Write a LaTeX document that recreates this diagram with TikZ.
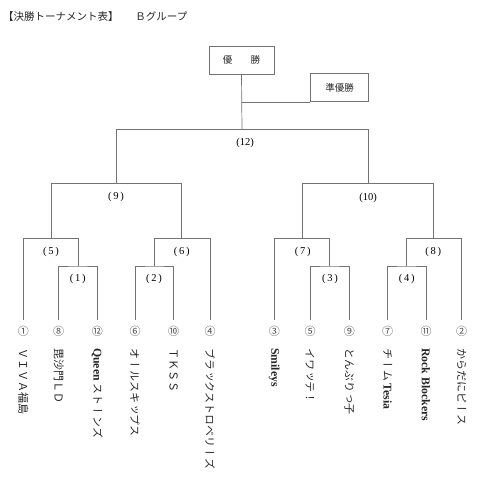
\documentclass[tikz,border=0pt]{standalone}
\usepackage{fontspec}
\setmainfont{Liberation Serif}
\newfontfamily\cjk{Noto Sans CJK JP}
\newfontfamily\cjkv[Vertical=RotatedGlyphs]{Noto Sans CJK JP}
\newcommand{\lat}[1]{{\rmfamily\bfseries\fontsize{11.8}{12}\selectfont #1}}
\begin{document}
\begin{tikzpicture}[x=1pt,y=-1pt,
  br/.style={draw=black!55,line width=0.7pt},
  boxnode/.style={draw=black!55,line width=0.7pt,inner sep=0pt,text=black!85,font=\cjk\fontsize{9.5}{10}\selectfont},
  lab/.style={inner sep=0pt,font=\fontsize{10.5}{11}\selectfont},
  num/.style={inner sep=0pt,font=\cjk\fontsize{11}{11}\selectfont,text=black!70},
  team/.style={inner sep=0pt,rotate=-90,anchor=west,text=black!85,font=\cjkv\fontsize{11}{11}\selectfont}]
\useasboundingbox (0,0) rectangle (480,480);
% title
\node[anchor=west,inner sep=0pt,text=black!85,font=\cjk\fontsize{10.5}{11}\selectfont] (title) at (3,17) {【決勝トーナメント表】\hspace{1.6em}Ｂグループ};
% boxes
\node[boxnode,minimum width=65pt,minimum height=28pt] (W) at (241.5,60) {優\hspace{1.9em}勝};
\node[boxnode,minimum width=57.6pt,minimum height=28pt] (R) at (339.5,87.7) {準優勝};
% leaf tops
\foreach \n/\x in {a/23.3,b/58.7,c/97.3,d/135,e/173.7,f/210,g/274.3,h/310,i/349.3,j/387.7,k/426,l/461.7}{
  \coordinate (t\n) at (\x,320);
}
% match points
\coordinate (m1) at (78,266);
\coordinate (m2) at (154.3,266);
\coordinate (m3) at (329.6,266);
\coordinate (m4) at (406.8,266);
\coordinate (m5) at (51,238.7);
\coordinate (m6) at (181.7,238.7);
\coordinate (m7) at (302.5,238.7);
\coordinate (m8) at (433.7,238.7);
\coordinate (m9) at (116.3,183.3);
\coordinate (m10) at (368,183.3);
\coordinate (m12) at (242,129.3);
% brackets
\draw[br] (tb) |- (m1) -| (tc);
\draw[br] (td) |- (m2) -| (te);
\draw[br] (th) |- (m3) -| (ti);
\draw[br] (tj) |- (m4) -| (tk);
\draw[br] (ta) |- (m5) -| (m1);
\draw[br] (m2) |- (m6) -| (tf);
\draw[br] (tg) |- (m7) -| (m3);
\draw[br] (m4) |- (m8) -| (tl);
\draw[br] (m5) |- (m9) -| (m6);
\draw[br] (m7) |- (m10) -| (m8);
\draw[br] (m9) |- (m12) -| (m10);
\draw[br] (m12) -- (W.south);
\draw[br] (R.south west) -- (W.south |- R.south west);
% match labels
\node[lab] (l1) at (77.7,279) {(\,1\,)};
\node[lab] (l2) at (154,279) {(\,2\,)};
\node[lab] (l3) at (330,279) {(\,3\,)};
\node[lab] (l4) at (406.7,279) {(\,4\,)};
\node[lab] (l5) at (51,252) {(\,5\,)};
\node[lab] (l6) at (181.7,252) {(\,6\,)};
\node[lab] (l7) at (302.7,252) {(\,7\,)};
\node[lab] (l8) at (433.3,252) {(\,8\,)};
\node[lab] (l9) at (116,197) {(\,9\,)};
\node[lab] (l10) at (368,198) {(10)};
\node[lab] (l12) at (245,143) {(12)};
% seed numbers
\node[num] (na) at (23.3,331.7) {①};
\node[num] (nb) at (58.7,331.7) {⑧};
\node[num] (nc) at (97.3,331.7) {⑫};
\node[num] (nd) at (135,331.7) {⑥};
\node[num] (ne) at (173.7,331.7) {⑩};
\node[num] (nf) at (210,331.7) {④};
\node[num] (ng) at (274.3,331.7) {③};
\node[num] (nh) at (310,331.7) {⑤};
\node[num] (ni) at (349.3,331.7) {⑨};
\node[num] (nj) at (387.7,331.7) {⑦};
\node[num] (nk) at (426,331.7) {⑪};
\node[num] (nl) at (461.7,331.7) {②};
% team names
\node[team] (sa) at (23.3,348) {ＶＩＶＡ福島};
\node[team] (sb) at (58.7,348) {毘沙門ＬＤ};
\node[team] (sc) at (97.3,348) {\lat{Queen} ストーンズ};
\node[team] (sd) at (135,348) {オールスキップス};
\node[team] (se) at (173.7,348) {ＴＫＳＳ};
\node[team] (sf) at (210,348) {ブラックストロベリーズ};
\node[team] (sg) at (274.3,348) {\lat{Smileys}};
\node[team] (sh) at (310,348) {イワッテ！};
\node[team] (si) at (349.3,348) {とんぶりっ子};
\node[team] (sj) at (387.7,348) {チーム \lat{Tesia}};
\node[team] (sk) at (426,348) {\lat{Rock Blockers}};
\node[team] (sl) at (461.7,348) {からだにピース};
\end{tikzpicture}
\end{document}
